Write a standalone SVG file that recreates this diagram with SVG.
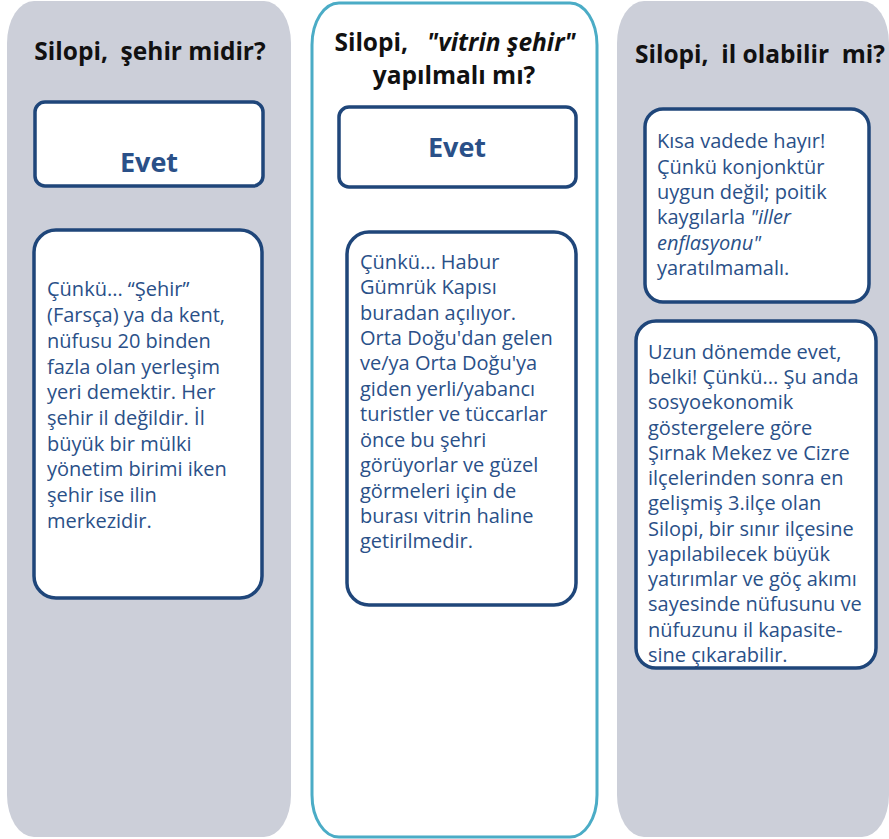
<svg xmlns="http://www.w3.org/2000/svg" width="889" height="839" viewBox="0 0 889 839">
<style>
.col{fill:#CCCFD9;}
.colmid{fill:#FFFFFF;stroke:#4BACC6;stroke-width:3;}
.box{fill:#FFFFFF;stroke:#1F467A;stroke-width:3.5;}
.head{font-family:"Open Sans","Liberation Sans",sans-serif;font-weight:bold;font-size:24.5px;fill:#111111;text-anchor:middle;white-space:pre;}
.evet{font-family:"Open Sans","Liberation Sans",sans-serif;font-weight:bold;font-size:27px;fill:#2A5088;text-anchor:middle;}
.body{font-family:"Open Sans","Liberation Sans",sans-serif;font-size:20px;fill:#2A5088;}
</style>
<g id="col1">
<rect class="col" x="7" y="1" width="284" height="836" rx="27" ry="42"/>
<text class="head" x="150" y="60" xml:space="preserve">Silopi,  şehir midir?</text>
</g>
<g id="col2">
<rect class="colmid" x="312" y="3" width="285" height="834" rx="27" ry="42"/>
<text class="head" x="455" y="51" xml:space="preserve">Silopi,   <tspan font-style="italic">"vitrin şehir"</tspan></text>
<text class="head" x="454" y="84">yapılmalı mı?</text>
</g>
<g id="col3">
<rect class="col" x="617" y="1" width="272" height="836" rx="27" ry="42"/>
<text class="head" x="760" y="63" xml:space="preserve">Silopi,  il olabilir  mi?</text>
</g>
<g id="evet1">
<rect class="box" x="35" y="102" width="228" height="84" rx="10"/>
<text class="evet" x="149" y="172">Evet</text>
</g>
<g id="evet2">
<rect class="box" x="339" y="107" width="237" height="80" rx="10"/>
<text class="evet" x="457" y="157">Evet</text>
</g>
<g id="text1">
<rect class="box" x="34" y="230" width="228" height="368" rx="22"/>
<text class="body">
<tspan x="47" y="296">Çünkü... “Şehir”</tspan>
<tspan x="47" y="322">(Farsça) ya da kent,</tspan>
<tspan x="47" y="348">nüfusu 20 binden</tspan>
<tspan x="47" y="374">fazla olan yerleşim</tspan>
<tspan x="47" y="399">yeri demektir. Her</tspan>
<tspan x="47" y="425">şehir il değildir. İl</tspan>
<tspan x="47" y="451">büyük bir mülki</tspan>
<tspan x="47" y="476">yönetim birimi iken</tspan>
<tspan x="47" y="502">şehir ise ilin</tspan>
<tspan x="47" y="528">merkezidir.</tspan>
</text>
</g>
<g id="text2">
<rect class="box" x="347" y="232" width="229" height="373" rx="22"/>
<text class="body">
<tspan x="360" y="269">Çünkü... Habur</tspan>
<tspan x="360" y="294">Gümrük Kapısı</tspan>
<tspan x="360" y="320">buradan açılıyor.</tspan>
<tspan x="360" y="345">Orta Doğu'dan gelen</tspan>
<tspan x="360" y="370">ve/ya Orta Doğu'ya</tspan>
<tspan x="360" y="396">giden yerli/yabancı</tspan>
<tspan x="360" y="421">turistler ve tüccarlar</tspan>
<tspan x="360" y="447">önce bu şehri</tspan>
<tspan x="360" y="472">görüyorlar ve güzel</tspan>
<tspan x="360" y="498">görmeleri için de</tspan>
<tspan x="360" y="523">burası vitrin haline</tspan>
<tspan x="360" y="548">getirilmedir.</tspan>
</text>
</g>
<g id="text3">
<rect class="box" x="645" y="109" width="224" height="193" rx="18"/>
<text class="body">
<tspan x="657" y="148">Kısa vadede hayır!</tspan>
<tspan x="657" y="174">Çünkü konjonktür</tspan>
<tspan x="657" y="199">uygun değil; poitik</tspan>
<tspan x="657" y="224">kaygılarla <tspan font-style="italic">"iller</tspan></tspan>
<tspan x="657" y="250" font-style="italic">enflasyonu"</tspan>
<tspan x="657" y="275">yaratılmamalı.</tspan>
</text>
</g>
<g id="text4">
<rect class="box" x="636" y="321" width="240" height="347" rx="20"/>
<text class="body">
<tspan x="648" y="359">Uzun dönemde evet,</tspan>
<tspan x="648" y="384">belki! Çünkü... Şu anda</tspan>
<tspan x="648" y="409">sosyoekonomik</tspan>
<tspan x="648" y="435">göstergelere göre</tspan>
<tspan x="648" y="460">Şırnak Mekez ve Cizre</tspan>
<tspan x="648" y="485">ilçelerinden sonra en</tspan>
<tspan x="648" y="510">gelişmiş 3.ilçe olan</tspan>
<tspan x="648" y="536">Silopi, bir sınır ilçesine</tspan>
<tspan x="648" y="561">yapılabilecek büyük</tspan>
<tspan x="648" y="586">yatırımlar ve göç akımı</tspan>
<tspan x="648" y="611">sayesinde nüfusunu ve</tspan>
<tspan x="648" y="637">nüfuzunu il kapasite-</tspan>
<tspan x="648" y="662">sine çıkarabilir.</tspan>
</text>
</g>
</svg>
